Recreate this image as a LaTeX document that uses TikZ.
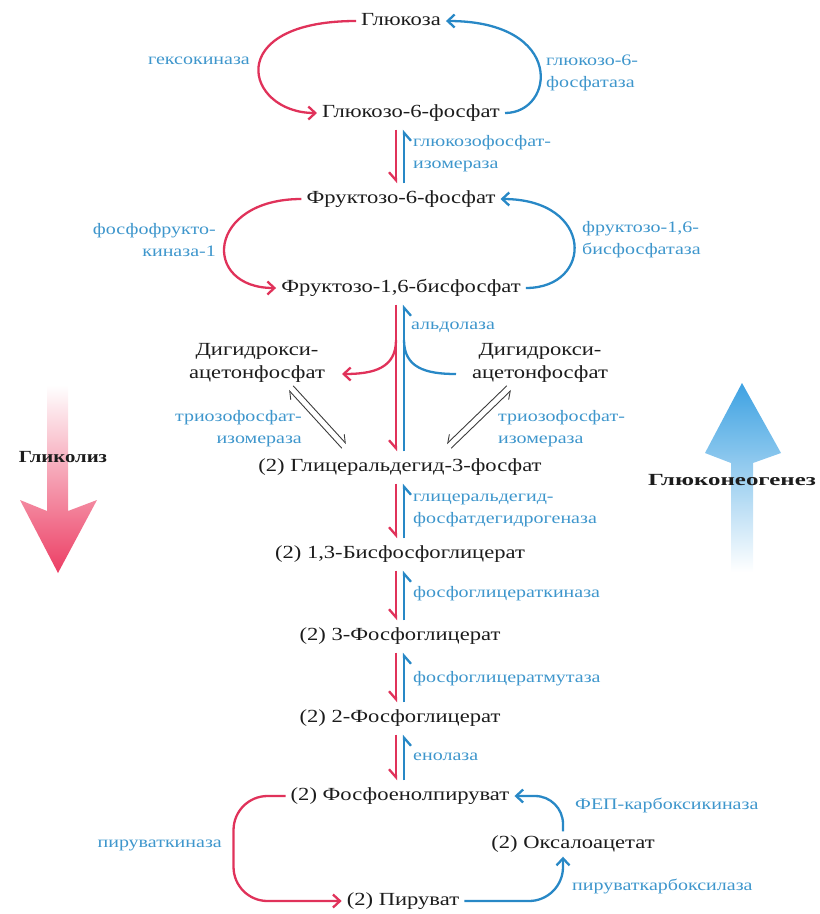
\documentclass[tikz,border=0pt]{standalone}
\usepackage{fontspec}
\usepackage{graphicx}
\setmainfont[FakeStretch=1.22]{Liberation Serif}
\newfontfamily\enzfont[FakeStretch=1.25]{Liberation Serif}
\usetikzlibrary{arrows.meta,calc}
\definecolor{rd}{RGB}{224,50,90}
\definecolor{bl}{RGB}{40,136,198}
\definecolor{enz}{RGB}{62,150,204}
\definecolor{txt}{RGB}{28,28,28}
\definecolor{bigrd}{RGB}{236,62,100}
\definecolor{bigbl}{RGB}{62,162,226}
\definecolor{tri}{RGB}{60,60,60}
\begin{document}
\begin{tikzpicture}[x=1pt,y=-1pt,
  mol/.style={text=txt,font=\fontsize{18.5}{22}\selectfont,inner xsep=5pt,inner ysep=4pt,text height=13pt,text depth=4pt},
  mol2/.style={text=txt,font=\fontsize{18.5}{23}\selectfont,align=center,inner sep=3pt},
  enzl/.style={text=enz,font=\enzfont\fontsize{16}{22}\selectfont,align=left,inner sep=0pt,anchor=west},
  enzr/.style={text=enz,font=\enzfont\fontsize{16}{22}\selectfont,align=right,inner sep=0pt,anchor=east},
  big/.style={text=txt,font=\fontsize{17}{20}\selectfont\bfseries,inner sep=0pt},
  redarr/.style={draw=rd,line width=2.3pt,-{Straight Barb[length=7pt,width=13pt]}},
  bluarr/.style={draw=bl,line width=2.3pt,-{Straight Barb[length=7pt,width=13pt]}},
  redline/.style={draw=rd,line width=2.3pt},
  bluline/.style={draw=bl,line width=2.3pt},
  redh/.style={draw=rd,line width=2.3pt,shorten <=4pt,shorten >=3pt,-{Straight Barb[right,length=8pt,width=14pt]}},
  bluh/.style={draw=bl,line width=2.3pt,shorten <=3pt,shorten >=4pt,-{Straight Barb[right,length=8pt,width=14pt]}},
  trih/.style={draw=tri,line width=0.9pt,-{Straight Barb[left,length=7pt,width=10pt]}},
  trihr/.style={draw=tri,line width=0.9pt,-{Straight Barb[right,length=7pt,width=10pt]}}
]
\useasboundingbox (0,0) rectangle (820,914);

% big process arrows
\shade[top color=white,middle color=bigrd!90,bottom color=bigrd]
  (47,385) -- (68,385) -- (68,511) -- (97,500) -- (58,573) -- (20,500) -- (47,511) -- cycle;
\shade[bottom color=white,middle color=bigbl!85,top color=bigbl]
  (731,572) -- (753,572) -- (753,463) -- (781,453) -- (742,383) -- (705,453) -- (731,463) -- cycle;
\node[big] (glyc) at (63,457) {Гликолиз};
\node[big] (gng) at (732,480) {\scalebox{1.2}[1]{Глюконеогенез}};

% axes for central arrows
\coordinate (axL) at (396,0);
\coordinate (axR) at (404,0);

% metabolites
\node[mol] (glc) at (401,21) {Глюкоза};
\node[mol] (g6p) at (411,113) {Глюкозо-6-фосфат};
\node[mol] (f6p) at (401,199) {Фруктозо-6-фосфат};
\node[mol] (f16) at (401,288) {Фруктозо-1,6-бисфосфат};
\node[mol2] (dhapL) at (257,363) {Дигидрокси-\\ацетонфосфат};
\node[mol2] (dhapR) at (540,363) {Дигидрокси-\\ацетонфосфат};
\node[mol] (gap) at (400,467) {(2) Глицеральдегид-3-фосфат};
\node[mol] (bpg) at (400,554) {(2) 1,3-Бисфосфоглицерат};
\node[mol] (pg3) at (400,636) {(2) 3-Фосфоглицерат};
\node[mol] (pg2) at (400,718) {(2) 2-Фосфоглицерат};
\node[mol] (pep) at (400,796) {(2) Фосфоенолпируват};
\node[mol] (oaa) at (573,844) {(2) Оксалоацетат};
\node[mol] (pyr) at (403,901) {(2) Пируват};

% enzymes
\node[enzr] (hk) at (250,61) {гексокиназа};
\node[enzl] (g6pase) at (546,73) {глюкозо-6-\\фосфатаза};
\node[enzl] (gpi) at (413,154) {глюкозофосфат-\\изомераза};
\node[enzr] (pfk) at (216,240) {фосфофрукто-\\киназа-1};
\node[enzl] (fbp) at (582,240) {фруктозо-1,6-\\бисфосфатаза};
\node[enzl] (ald) at (411,327) {альдолаза};
\node[enzr] (tpiL) at (302,429) {триозофосфат-\\изомераза};
\node[enzl] (tpiR) at (498,429) {триозофосфат-\\изомераза};
\node[enzl] (gapdh) at (413,510) {глицеральдегид-\\фосфатдегидрогеназа};
\node[enzl] (pgk) at (413,594) {фосфоглицераткиназа};
\node[enzl] (pgm) at (413,679) {фосфоглицератмутаза};
\node[enzl] (eno) at (413,757) {енолаза};
\node[enzr] (pk) at (222,845) {пируваткиназа};
\node[enzl] (pc) at (572,886) {пируваткарбоксилаза};
\node[enzl] (pepck) at (575,805) {ФЕП-карбоксикиназа};

% glucose cycle
\draw[redarr] (glc.west) .. controls +(-135,0) and +(-72,0) .. (g6p.west);
\draw[bluarr] (g6p.east) .. controls +(50,0) and +(120,0) .. (glc.east);
% fructose cycle
\draw[redarr] (f6p.west) .. controls +(-95,0) and +(-75,0) .. (f16.west);
\draw[bluarr] (f16.east) .. controls +(68,0) and +(94,0) .. (f6p.east);

% reversible central steps
\draw[redh] (g6p.south -| axL) -- (f6p.north -| axL);
\draw[bluh] (f6p.north -| axR) -- (g6p.south -| axR);
\draw[redh] (f16.south -| axL) -- (gap.north -| axL);
\draw[bluh] (gap.north -| axR) -- (f16.south -| axR);
\draw[redh] (gap.south -| axL) -- (bpg.north -| axL);
\draw[bluh] (bpg.north -| axR) -- (gap.south -| axR);
\draw[redh] (bpg.south -| axL) -- (pg3.north -| axL);
\draw[bluh] (pg3.north -| axR) -- (bpg.south -| axR);
\draw[redh] (pg3.south -| axL) -- (pg2.north -| axL);
\draw[bluh] (pg2.north -| axR) -- (pg3.south -| axR);
\draw[redh] (pg2.south -| axL) -- (pep.north -| axL);
\draw[bluh] (pep.north -| axR) -- (pg2.south -| axR);

% aldolase branches
\coordinate (brL) at (396,340);
\coordinate (brR) at (404,340);
\coordinate (rtip) at (342,374);
\coordinate (btail) at (456,374);
\draw[redarr] (brL) .. controls (396,368) and (374,374) .. (rtip);
\draw[bluline] (btail) .. controls (426,374) and (404,368) .. (brR);

% triose phosphate isomerase
\coordinate (tLa) at (291,388);
\coordinate (tLb) at (344,446);
\coordinate (tRa) at (509,388);
\coordinate (tRb) at (449,446);
\draw[trih] ($(tLa)+(2.2,-2.2)$) -- ($(tLb)+(2.2,-2.2)$);
\draw[trih] ($(tLb)+(-2.2,2.2)$) -- ($(tLa)+(-2.2,2.2)$);
\draw[trihr] ($(tRa)+(-2.2,-2.2)$) -- ($(tRb)+(-2.2,-2.2)$);
\draw[trihr] ($(tRb)+(2.2,2.2)$) -- ($(tRa)+(2.2,2.2)$);

% pyruvate / PEP cycle
\draw[redarr,rounded corners=34pt] (pep.west) -- ++(-52,0) |- (pyr.west);
\draw[bluarr,rounded corners=34pt] (pyr.east) -| ([xshift=-10pt]oaa.south);
\draw[bluarr,rounded corners=28pt] ([xshift=-10pt]oaa.north) |- (pep.east);
\end{tikzpicture}
\end{document}
